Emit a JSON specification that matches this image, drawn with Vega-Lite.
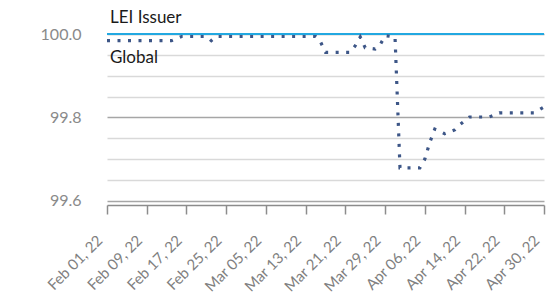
{
  "$schema": "https://vega.github.io/schema/vega-lite/v6.json",
  "autosize": {"type": "none"},
  "padding": {"left": 107, "top": 34, "right": 2, "bottom": 92},
  "width": 437,
  "height": 171,
  "config": {"view": {"stroke": null}, "font": "Lato"},
  "data": {"values": [
    {"date": "2022/02/01", "value": 100.0, "series": "LEI Issuer"},
    {"date": "2022/04/30", "value": 100.0, "series": "LEI Issuer"},
    {"date": "2022/02/01", "value": 99.984, "series": "Global"},
    {"date": "2022/02/14", "value": 99.984, "series": "Global"},
    {"date": "2022/02/16", "value": 99.994, "series": "Global"},
    {"date": "2022/02/21", "value": 99.994, "series": "Global"},
    {"date": "2022/02/22", "value": 99.984, "series": "Global"},
    {"date": "2022/02/23", "value": 99.994, "series": "Global"},
    {"date": "2022/03/15", "value": 99.994, "series": "Global"},
    {"date": "2022/03/16", "value": 99.981, "series": "Global"},
    {"date": "2022/03/17", "value": 99.956, "series": "Global"},
    {"date": "2022/03/22", "value": 99.956, "series": "Global"},
    {"date": "2022/03/23", "value": 99.972, "series": "Global"},
    {"date": "2022/03/24", "value": 99.993, "series": "Global"},
    {"date": "2022/03/25", "value": 99.967, "series": "Global"},
    {"date": "2022/03/27", "value": 99.964, "series": "Global"},
    {"date": "2022/03/28", "value": 99.974, "series": "Global"},
    {"date": "2022/03/29", "value": 99.996, "series": "Global"},
    {"date": "2022/03/31", "value": 99.993, "series": "Global"},
    {"date": "2022/04/01", "value": 99.679, "series": "Global"},
    {"date": "2022/04/05", "value": 99.679, "series": "Global"},
    {"date": "2022/04/06", "value": 99.70, "series": "Global"},
    {"date": "2022/04/07", "value": 99.74, "series": "Global"},
    {"date": "2022/04/08", "value": 99.772, "series": "Global"},
    {"date": "2022/04/10", "value": 99.761, "series": "Global"},
    {"date": "2022/04/12", "value": 99.770, "series": "Global"},
    {"date": "2022/04/13", "value": 99.782, "series": "Global"},
    {"date": "2022/04/15", "value": 99.801, "series": "Global"},
    {"date": "2022/04/19", "value": 99.801, "series": "Global"},
    {"date": "2022/04/21", "value": 99.811, "series": "Global"},
    {"date": "2022/04/28", "value": 99.811, "series": "Global"},
    {"date": "2022/04/30", "value": 99.825, "series": "Global"}
  ]},
  "encoding": {
    "x": {
      "field": "date", "type": "temporal",
      "scale": {"domain": [{"year": 2022, "month": 2, "date": 1}, {"year": 2022, "month": 4, "date": 30}], "nice": false},
      "axis": {
        "title": null,
        "grid": false,
        "values": [
          {"year": 2022, "month": 2, "date": 1}, {"year": 2022, "month": 2, "date": 9},
          {"year": 2022, "month": 2, "date": 17}, {"year": 2022, "month": 2, "date": 25},
          {"year": 2022, "month": 3, "date": 5}, {"year": 2022, "month": 3, "date": 13},
          {"year": 2022, "month": 3, "date": 21}, {"year": 2022, "month": 3, "date": 29},
          {"year": 2022, "month": 4, "date": 6}, {"year": 2022, "month": 4, "date": 14},
          {"year": 2022, "month": 4, "date": 22}, {"year": 2022, "month": 4, "date": 30}
        ],
        "format": "%b %d, %y",
        "labelAngle": -45,
        "labelAlign": "right",
        "labelBaseline": "alphabetic",
        "labelPadding": 27,
        "labelOffset": -4,
        "labelFontSize": 15,
        "labelColor": "#808080",
        "labelOverlap": false,
        "labelBound": false,
        "labelFlush": false,
        "tickSize": 9,
        "tickColor": "#8c8c8c",
        "domainColor": "#8c8c8c",
        "domainWidth": 1.5,
        "tickWidth": 1.5
      }
    },
    "y": {
      "field": "value", "type": "quantitative",
      "scale": {"domain": [99.59, 100.0], "nice": false, "zero": false},
      "axis": {
        "title": null,
        "values": [99.6, 99.65, 99.7, 99.75, 99.8, 99.85, 99.9, 99.95, 100.0],
        "labelExpr": "abs(datum.value*5 - round(datum.value*5)) < 0.001 ? format(datum.value, '.1f') : ''",
        "ticks": false,
        "tickSize": 0,
        "domain": false,
        "labelPadding": 26,
        "labelFontSize": 16,
        "labelColor": "#8a8a8a",
        "labelOverlap": false,
        "labelBound": false,
        "gridColor": {"condition": {"test": "abs(datum.value*5 - round(datum.value*5)) < 0.001", "value": "#a6a6a6"}, "value": "#d9d9d9"},
        "gridWidth": 1.3
      }
    }
  },
  "layer": [
    {
      "transform": [{"filter": "datum.series === 'LEI Issuer'"}],
      "mark": {"type": "line", "color": "#22A8E1", "strokeWidth": 2}
    },
    {
      "transform": [{"filter": "datum.series === 'Global'"}],
      "mark": {"type": "line", "color": "#3D5687", "strokeWidth": 3.2, "strokeDash": [3, 7.5], "strokeCap": "butt"}
    },
    {
      "transform": [{"filter": "datum.series === 'LEI Issuer' && month(datum.date) === 1 && date(datum.date) === 1"}],
      "mark": {"type": "text", "align": "left", "baseline": "alphabetic", "dx": 3, "dy": -11, "fontSize": 17, "color": "#1a1a1a", "clip": false},
      "encoding": {"text": {"field": "series"}}
    },
    {
      "transform": [{"filter": "datum.series === 'Global' && month(datum.date) === 1 && date(datum.date) === 1"}],
      "mark": {"type": "text", "align": "left", "baseline": "alphabetic", "dx": 3, "dy": 22, "fontSize": 17, "color": "#1a1a1a", "clip": false},
      "encoding": {"text": {"field": "series"}}
    }
  ]
}
